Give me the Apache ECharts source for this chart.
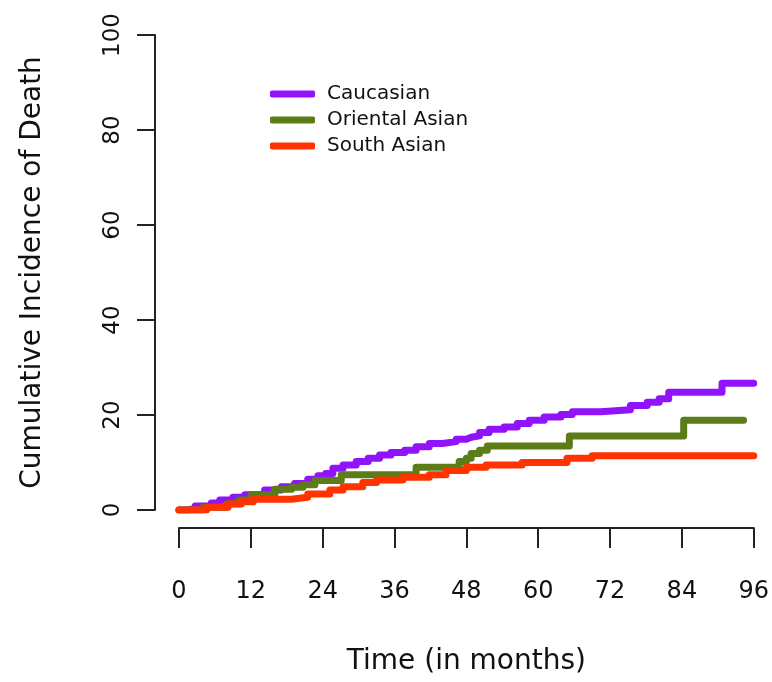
<!DOCTYPE html>
<html>
<head>
<meta charset="utf-8">
<script src="https://cdn.jsdelivr.net/npm/echarts@6/dist/echarts.min.js"></script>
<style>
html,body{margin:0;padding:0;background:#fff;}
#chart{width:772px;height:682px;}
</style>
</head>
<body>
<div id="chart"></div>
<script>
var seriesNames = ["Caucasian", "Oriental Asian", "South Asian"];
var xTicks = [0, 12, 24, 36, 48, 60, 72, 84, 96];
var yTicks = [0, 20, 40, 60, 80, 100];

var caucasianT = [0, 1.5, 2.7, 5.4, 6.8, 9, 11, 14.3, 17.1, 19.3, 21.5, 23.2, 24.5, 25.7, 27.4, 29.6, 31.6, 33.5, 35.4, 37.7, 39.6, 41.8, 44, 46.3, 48, 48.8, 50.2, 51.8, 54.3, 56.5, 58.5, 61, 63.8, 65.7, 70.4, 75.4, 78.2, 80.2, 81.8, 90.7, 96];
var caucasianV = [0, 0.4, 0.84, 1.5, 2.1, 2.7, 3.2, 4.2, 4.9, 5.6, 6.45, 7.2, 7.7, 8.8, 9.5, 10.2, 10.9, 11.6, 12.1, 12.6, 13.3, 14.0, 14.4, 14.9, 15.3, 15.6, 16.3, 17.0, 17.5, 18.2, 18.9, 19.6, 20.1, 20.7, 21.1, 22.0, 22.7, 23.4, 24.8, 26.7, 26.7];

var orientalT = [0, 4, 8, 10, 12.1, 16, 18.8, 20.7, 22.7, 27.1, 39.6, 46.8, 48, 48.8, 50.2, 51.5, 65.2, 84.3, 94.3];
var orientalV = [0, 0.6, 1.3, 2.1, 3.2, 4.35, 4.8, 5.3, 6.2, 7.4, 9.0, 10.2, 10.9, 11.9, 12.6, 13.5, 15.6, 18.9, 18.9];

var southT = [0, 4.6, 8.2, 10.4, 12.4, 18.8, 21.5, 25.2, 27.4, 30.7, 33, 37.4, 41.8, 44.6, 48, 51.3, 57.3, 64.8, 69, 96];
var southV = [0, 0.6, 1.26, 1.75, 2.25, 2.67, 3.37, 4.2, 4.9, 5.8, 6.3, 6.9, 7.4, 8.3, 9.0, 9.5, 10.0, 10.9, 11.4, 11.4];

var colors = ["#9013FA", "#5B7C17", "#FF3300"];

function pairs(t, v) { return t.map(function (x, i) { return [x, v[i]]; }); }

var FONT = "DejaVu Sans";
var chart = echarts.init(document.getElementById('chart'), null, {renderer: 'canvas'});
var series = [[caucasianT, caucasianV], [orientalT, orientalV], [southT, southV]].map(function (s, i) {
  return {
    name: seriesNames[i],
    type: 'line',
    step: 'end',
    data: pairs(s[0], s[1]),
    symbol: 'none',
    lineStyle: {width: 7, color: colors[i], cap: 'round', join: 'round'},
    itemStyle: {color: colors[i]},
    z: 2 + i
  };
});

chart.setOption({
  animation: false,
  backgroundColor: '#ffffff',
  grid: {left: 179, right: 17, top: 35, bottom: 172, containLabel: false},
  legend: {
    orient: 'vertical',
    left: 265,
    top: 76,
    icon: 'roundRect',
    itemWidth: 45,
    itemHeight: 7,
    itemGap: 0,
    data: seriesNames,
    textStyle: {fontFamily: FONT, fontSize: 20, color: '#111', lineHeight: 26, padding: [0, 0, 0, 7]}
  },
  xAxis: {
    type: 'value',
    min: xTicks[0],
    max: xTicks[xTicks.length - 1],
    interval: 12,
    offset: 18,
    name: 'Time (in months)',
    nameLocation: 'middle',
    nameGap: 120,
    nameTextStyle: {fontFamily: FONT, fontSize: 28, color: '#111'},
    axisLine: {show: true, onZero: false, lineStyle: {color: '#222', width: 2}},
    axisTick: {show: true, length: 20, lineStyle: {color: '#222', width: 2}},
    axisLabel: {fontFamily: FONT, fontSize: 24, color: '#111', margin: 52},
    splitLine: {show: false}
  },
  yAxis: {
    type: 'value',
    min: yTicks[0],
    max: yTicks[yTicks.length - 1],
    interval: 20,
    offset: 24,
    name: 'Cumulative Incidence of Death',
    nameLocation: 'middle',
    nameRotate: 90,
    nameGap: 108,
    nameTextStyle: {fontFamily: FONT, fontSize: 28, color: '#111'},
    axisLine: {show: true, onZero: false, lineStyle: {color: '#222', width: 2}},
    axisTick: {show: true, length: 18, lineStyle: {color: '#222', width: 2}},
    axisLabel: {fontFamily: FONT, fontSize: 23, color: '#111', margin: 30, rotate: 90},
    splitLine: {show: false}
  },
  series: series
});
</script>
</body>
</html>
